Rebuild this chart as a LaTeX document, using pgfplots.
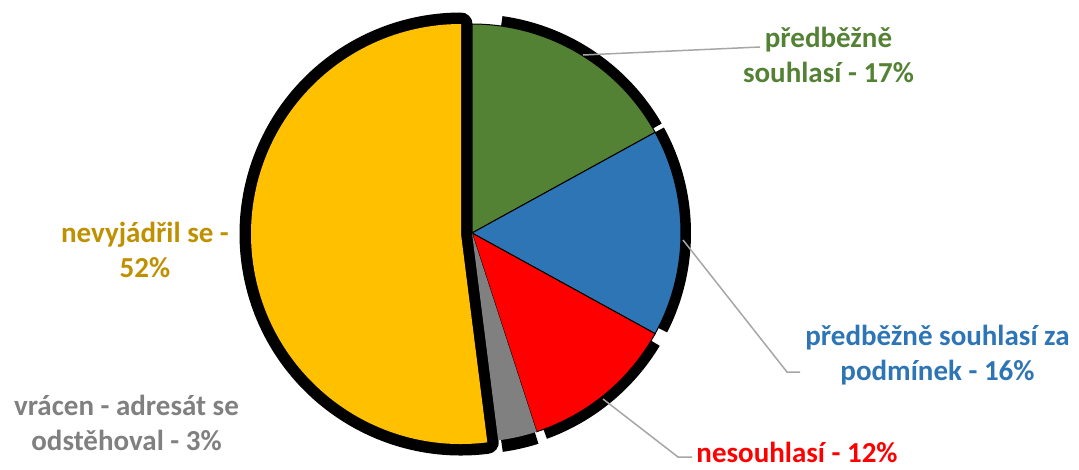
\documentclass[border=0pt]{standalone}
\usepackage{pgfplots}
\pgfplotsset{compat=1.18}
\usepackage{fontspec}
\setmainfont{Carlito}

\definecolor{cgreen}{RGB}{84,130,53}
\definecolor{cblue}{RGB}{46,117,182}
\definecolor{cred}{RGB}{255,0,0}
\definecolor{cgray}{RGB}{128,128,128}
\definecolor{cyellow}{RGB}{255,192,0}
\definecolor{cyellowtxt}{RGB}{191,144,0}
\definecolor{cleader}{RGB}{166,166,166}

\tikzset{lbl/.style={font=\fontsize{29}{35}\selectfont\bfseries, anchor=base, inner sep=0pt}}

% shares in percent: 17, 16, 12, 3, 52 (3.6 degrees per percent, clockwise from the top)
\begin{document}
\begin{tikzpicture}
\begin{axis}[
  width=1079pt, height=469pt, scale only axis,
  xmin=0, xmax=1079, ymin=0, ymax=469,
  y dir=reverse, hide axis, clip=false,
]
% nevyjadril se - 52 %, exploded, thick black outline
\addplot[fill=black, draw=black, line width=23pt, line join=round]
  coordinates {(461,234)} -- ++({90-3.6*48}:210pt)
  arc[start angle={90-3.6*48}, end angle=-270, radius=210pt] -- cycle;

% black shadows of the other slices
\addplot[fill=black, draw=none] coordinates {(472,233)} -- ++(82:219pt)
  arc[start angle=82, end angle=30, radius=219pt] -- cycle;
\addplot[fill=black, draw=none] coordinates {(472,233)} -- ++(28.8:219pt)
  arc[start angle=28.8, end angle=-27, radius=219pt] -- cycle;
\addplot[fill=black, draw=none] coordinates {(472,233)} -- ++(-31:219pt)
  arc[start angle=-31, end angle=-70, radius=219pt] -- cycle;
\addplot[fill=black, draw=none] coordinates {(472,233)} -- ++(-72.5:221pt)
  arc[start angle=-72.5, end angle=-82, radius=221pt] -- cycle;

% predbezne souhlasi - 17 %
\addplot[fill=cgreen, draw=black, line width=1pt] coordinates {(472,233)} -- ++(90:209pt)
  arc[start angle=90, end angle={90-3.6*17}, radius=209pt] -- cycle;
% predbezne souhlasi za podminek - 16 %
\addplot[fill=cblue, draw=black, line width=1pt] coordinates {(472,233)} -- ++({90-3.6*17}:209pt)
  arc[start angle={90-3.6*17}, end angle={90-3.6*33}, radius=209pt] -- cycle;
% nesouhlasi - 12 %
\addplot[fill=cred, draw=black, line width=1pt] coordinates {(472,233)} -- ++({90-3.6*33}:209pt)
  arc[start angle={90-3.6*33}, end angle={90-3.6*45}, radius=209pt] -- cycle;
% vracen - adresat se odstehoval - 3 %
\addplot[fill=cgray, draw=none] coordinates {(472,233)} -- ++({90-3.6*45}:209pt)
  arc[start angle={90-3.6*45}, end angle={90-3.6*48}, radius=209pt] -- cycle;
% nevyjadril se - 52 %, fill on top of its outline
\addplot[fill=cyellow, draw=none] coordinates {(461,234)} -- ++({90-3.6*48}:210pt)
  arc[start angle={90-3.6*48}, end angle=-270, radius=210pt] -- cycle;

% leader lines
\addplot[cleader, line width=1.5pt] coordinates {(583,55) (760,47)};
\addplot[cleader, line width=1.5pt] coordinates {(683,240) (787,372) (800,372)};
\addplot[cleader, line width=1.5pt] coordinates {(603,399) (678,457) (692,457)};

% labels
\node[lbl, text=cgreen] at (axis cs:828.5,47) {předběžně};
\node[lbl, text=cgreen] at (axis cs:828.5,82) {souhlasí - 17\%};
\node[lbl, text=cblue] at (axis cs:937.5,345) {předběžně souhlasí za};
\node[lbl, text=cblue] at (axis cs:937.5,380) {podmínek - 16\%};
\node[lbl, text=cred] at (axis cs:797,462) {nesouhlasí - 12\%};
\node[lbl, text=cyellowtxt] at (axis cs:145,242) {nevyjádřil se -};
\node[lbl, text=cyellowtxt] at (axis cs:145,277) {52\%};
\node[lbl, text=cgray] at (axis cs:126.5,415) {vrácen - adresát se};
\node[lbl, text=cgray] at (axis cs:126.5,450) {odstěhoval - 3\%};
\end{axis}
\pgfresetboundingbox
\path (current axis.south west) rectangle (current axis.north east);
\end{tikzpicture}
\end{document}
